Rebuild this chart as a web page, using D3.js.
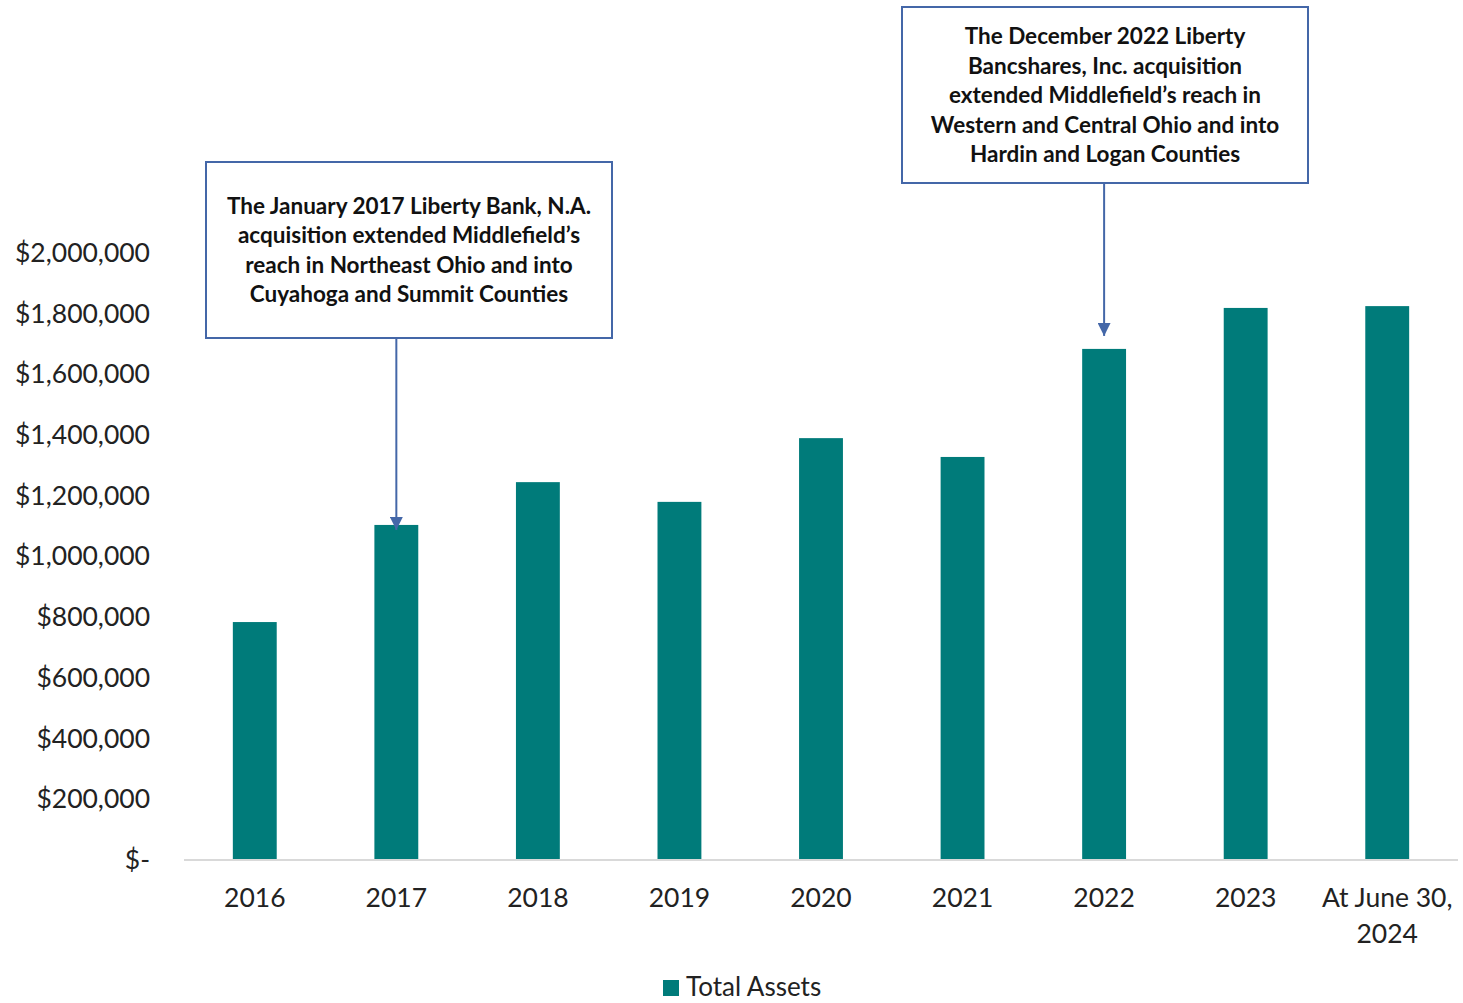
<!DOCTYPE html>
<html>
<head>
<meta charset="utf-8">
<script src="https://cdn.jsdelivr.net/npm/d3@7"></script>
<style>
  body { margin: 0; background: #fff; }
  svg { display: block; }
  text { font-family: Lato, "Open Sans", sans-serif; }
</style>
</head>
<body>
<svg width="1463" height="1003"></svg>
<script>
// data (total assets, $ thousands)
var categories = ["2016", "2017", "2018", "2019", "2020", "2021", "2022", "2023", "At June 30,|2024"];
var totalAssets = [784000, 1104000, 1245000, 1180000, 1390000, 1328000, 1684000, 1819000, 1825000];
var yTicks = [0, 200000, 400000, 600000, 800000, 1000000, 1200000, 1400000, 1600000, 1800000, 2000000];
var seriesName = "Total Assets";

var notes = [
  {cat: "2017", lines: ["The January 2017 Liberty Bank, N.A.", "acquisition extended Middlefield\u2019s",
    "reach in Northeast Ohio and into", "Cuyahoga and Summit Counties"],
   box: [206, 162, 406, 176], tipGap: -5},
  {cat: "2022", lines: ["The December 2022 Liberty", "Bancshares, Inc. acquisition",
    "extended Middlefield\u2019s reach in", "Western and Central Ohio and into", "Hardin and Logan Counties"],
   box: [902, 7, 406, 176], tipGap: 13}
];

var svg = d3.select("svg"),
    width = +svg.attr("width"),
    height = +svg.attr("height");

var margin = {left: 184, right: 5, top: 253, bottom: 143};
var plotBottom = height - margin.bottom;

var x = d3.scaleBand()
    .domain(categories)
    .range([margin.left, width - margin.right])
    .paddingInner(0.69)
    .paddingOuter(0.345);

var y = d3.scaleLinear()
    .domain([0, 2000000])
    .range([plotBottom, margin.top]);

var teal = "#007b7a";
var annColor = "#4467a8";

// y axis labels (no line)
var fmt = function(v) { return v === 0 ? "$-" : "$" + d3.format(",")(v); };
var yAxis = svg.append("g")
    .attr("transform", "translate(" + (margin.left - 34) + ",0)")
    .call(d3.axisLeft(y).tickValues(yTicks).tickFormat(fmt).tickSize(0).tickPadding(0));
yAxis.select(".domain").remove();
yAxis.selectAll("text")
    .attr("font-size", "26.5px")
    .attr("fill", "#222")
    .style("font-family", "Lato, sans-serif");

// bars
svg.append("g")
  .selectAll("rect")
  .data(categories)
  .enter().append("rect")
    .attr("x", function(d) { return x(d); })
    .attr("width", x.bandwidth())
    .attr("y", function(d, i) { return y(totalAssets[i]); })
    .attr("height", function(d, i) { return plotBottom - y(totalAssets[i]); })
    .attr("fill", teal);

// baseline
svg.append("line")
    .attr("x1", margin.left).attr("x2", width - margin.right)
    .attr("y1", plotBottom).attr("y2", plotBottom)
    .attr("stroke", "#d9d9d9").attr("stroke-width", 2);

// x labels, split on '|'
var xl = svg.append("g")
  .selectAll("text")
  .data(categories)
  .enter().append("text")
    .attr("text-anchor", "middle")
    .attr("font-size", "26.5px")
    .attr("fill", "#222")
    .attr("x", function(d) { return x(d) + x.bandwidth() / 2; })
    .attr("y", plotBottom + 47);
xl.each(function(d) {
  var parts = d.split("|");
  var t = d3.select(this);
  parts.forEach(function(p, k) {
    t.append("tspan")
      .attr("x", x(d) + x.bandwidth() / 2)
      .attr("dy", k === 0 ? 0 : 36)
      .text(p);
  });
});

// arrow marker
svg.append("defs").append("marker")
    .attr("id", "arrow")
    .attr("viewBox", "0 -5 10 10")
    .attr("refX", 10)
    .attr("markerWidth", 13)
    .attr("markerHeight", 13)
    .attr("markerUnits", "userSpaceOnUse")
    .attr("orient", "auto")
  .append("path")
    .attr("d", "M0,-5L10,0L0,5Z")
    .attr("fill", annColor);

// annotation boxes
notes.forEach(function(n) {
  var i = categories.indexOf(n.cat);
  var cx = x(n.cat) + x.bandwidth() / 2;
  var b = n.box;
  var g = svg.append("g");
  g.append("rect")
    .attr("x", b[0]).attr("y", b[1])
    .attr("width", b[2]).attr("height", b[3])
    .attr("fill", "#fff")
    .attr("stroke", annColor)
    .attr("stroke-width", 2);
  var lh = 29.5;
  var ty = b[1] + b[3] / 2 - (n.lines.length - 1) * lh / 2 + 8;
  g.append("text")
    .attr("text-anchor", "middle")
    .attr("font-size", "22.5px")
    .attr("font-weight", "bold")
    .attr("fill", "#111")
    .selectAll("tspan")
    .data(n.lines)
    .enter().append("tspan")
      .attr("x", b[0] + b[2] / 2)
      .attr("y", function(d, k) { return ty + k * lh; })
      .text(function(d) { return d; });
  svg.append("line")
    .attr("x1", cx).attr("x2", cx)
    .attr("y1", b[1] + b[3])
    .attr("y2", y(totalAssets[i]) - n.tipGap)
    .attr("stroke", annColor)
    .attr("stroke-width", 2)
    .attr("marker-end", "url(#arrow)");
});

// legend
var lg = svg.append("g").attr("transform", "translate(663,980)");
lg.append("rect").attr("width", 16).attr("height", 16).attr("fill", teal);
lg.append("text")
    .attr("x", 23).attr("y", 16)
    .attr("font-size", "26px")
    .attr("fill", "#222")
    .text(seriesName);
</script>
</body>
</html>
